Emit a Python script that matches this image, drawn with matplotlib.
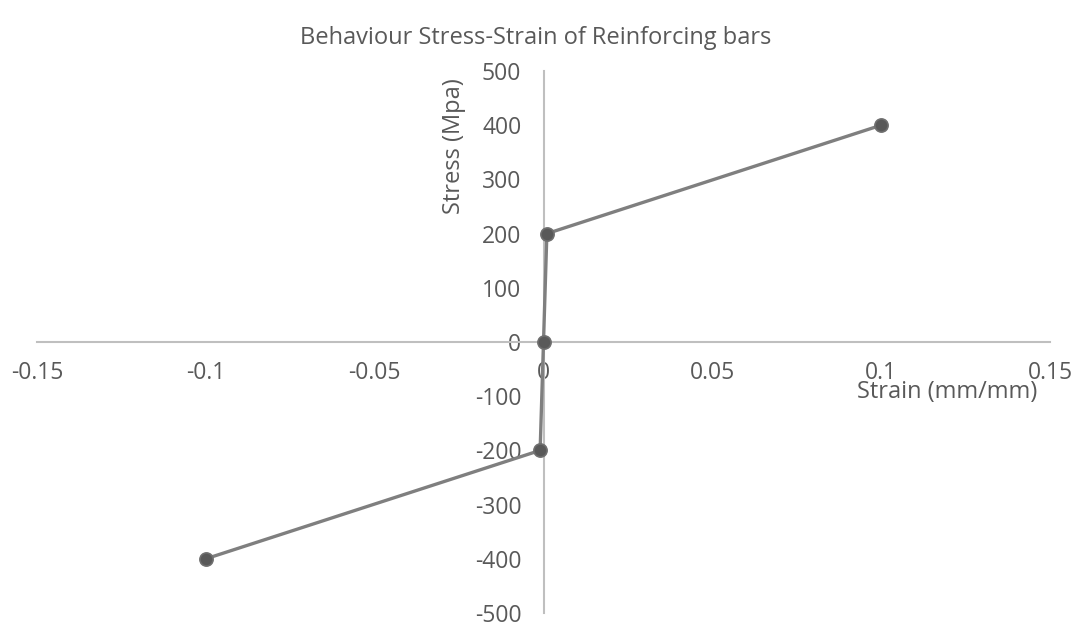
import matplotlib
matplotlib.use("Agg")
import matplotlib.pyplot as plt

strain = [-0.1, -0.001, 0.0, 0.001, 0.1]
stress = [-400, -200, 0, 200, 400]
xticks = [-0.15, -0.1, -0.05, 0, 0.05, 0.1, 0.15]
xticklabels = ["-0.15", "-0.1", "-0.05", "0", "0.05", "0.1", "0.15"]
yticks = [-500, -400, -300, -200, -100, 0, 100, 200, 300, 400, 500]

plt.rcParams['font.family'] = ['Open Sans', 'DejaVu Sans']
plt.rcParams['axes.unicode_minus'] = False
txt = '#595959'
axc = '#bfbfbf'

fig = plt.figure(figsize=(10.77, 6.26), dpi=100)
W, H = 1077, 626
ax = fig.add_axes([37 / W, 1 - 613 / H, (1050 - 37) / W, (613 - 71) / H])
ax.plot(strain, stress, color='#7f7f7f', lw=2.4, marker='o', ms=9.5,
        mfc='#595959', mec='#6f6f6f', mew=1.2, zorder=3)
ax.set_xlim(-0.15, 0.15)
ax.set_ylim(-500, 500)
ax.set_xticks(xticks)
ax.set_xticklabels(xticklabels)
ax.set_yticks(yticks)
for s in ['top', 'right']:
    ax.spines[s].set_visible(False)
ax.spines['left'].set_position(('data', 0))
ax.spines['bottom'].set_position(('data', 0))
for s in ['left', 'bottom']:
    ax.spines[s].set_color(axc)
    ax.spines[s].set_linewidth(1.5)
ax.tick_params(axis='both', length=0, labelsize=16.5, labelcolor=txt)
ax.tick_params(axis='y', pad=16)
ax.tick_params(axis='x', pad=14)
ax.set_facecolor('none')

fig.text(536 / W, 1 - 38 / H, 'Behaviour Stress-Strain of Reinforcing bars',
         ha='center', va='center', fontsize=17, color=txt)
fig.text(454 / W, 1 - 146 / H, 'Stress (Mpa)', rotation=90,
         ha='center', va='center', fontsize=17, color=txt)
fig.text(947 / W, 1 - 392 / H, 'Strain (mm/mm)',
         ha='center', va='center', fontsize=17, color=txt)

fig.savefig('out.png', dpi=100)
